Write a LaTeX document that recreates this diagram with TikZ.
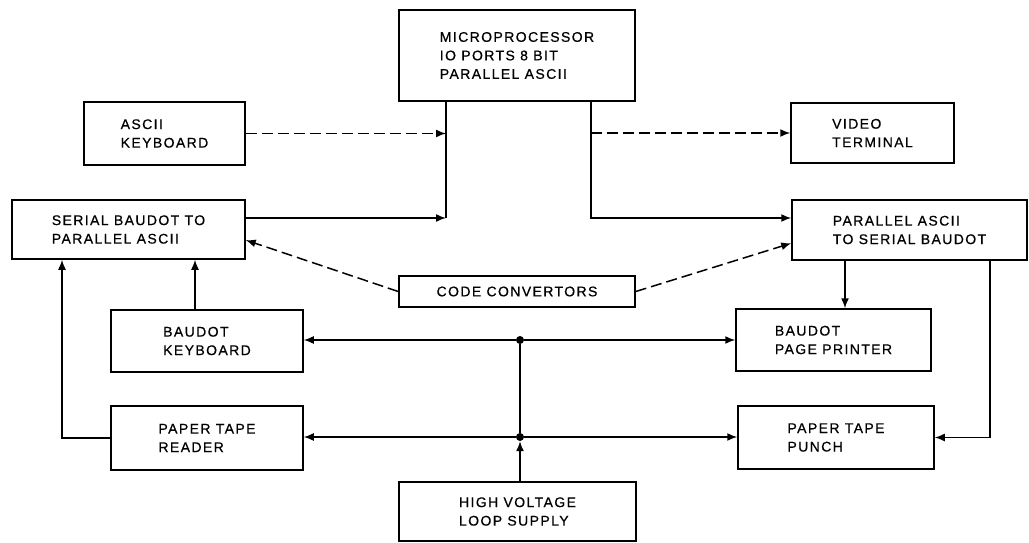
\documentclass[tikz,border=0pt]{standalone}
\usepackage{fontspec}
\setmainfont{Liberation Sans}
\usetikzlibrary{arrows.meta,calc}
\newfontfamily\boxfont[LetterSpace=10,FakeBold=0.6]{Liberation Sans}

\tikzset{
  box/.style={draw,line width=1.5pt,align=left,inner sep=0pt,
    font=\boxfont\fontsize{14}{18.5}\selectfont},
  wire/.style={line width=1.5pt},
  link/.style={wire,-{Latex[length=10pt,width=8pt]}},
  dlink/.style={link,dash pattern=on 11pt off 5pt},
  spot/.style={circle,fill,inner sep=0pt,minimum size=8pt},
}

\begin{document}
\begin{tikzpicture}[x=1pt,y=-1pt]
  \useasboundingbox (0,0) rectangle (1029,543);

  % The blocks, placed by their centres.
  \node[box,minimum width=236,minimum height=91] (micro) at (517,55.5)
    {MICROPROCESSOR\\IO PORTS 8 BIT\\PARALLEL ASCII};
  \node[box,minimum width=161,minimum height=63] (asciikb) at (164.5,133.5)
    {ASCII\\KEYBOARD};
  \node[box,minimum width=233,minimum height=59] (serial) at (128.5,229.5)
    {SERIAL BAUDOT TO\\PARALLEL ASCII};
  \node[box,minimum width=163,minimum height=60] (video) at (872.5,133)
    {VIDEO\\TERMINAL};
  \node[box,minimum width=235,minimum height=60] (parallel) at (909.5,230)
    {PARALLEL ASCII\\TO SERIAL BAUDOT};
  \node[box,minimum width=236,minimum height=31] (code) at (517,291.5)
    {CODE CONVERTORS};
  \node[box,minimum width=192,minimum height=62] (baudkb) at (207,341)
    {BAUDOT\\KEYBOARD};
  \node[box,minimum width=195,minimum height=62] (printer) at (833.5,340)
    {BAUDOT\\PAGE PRINTER};
  \node[box,minimum width=192,minimum height=64] (reader) at (207,438)
    {PAPER TAPE\\READER};
  \node[box,minimum width=196,minimum height=63] (punch) at (836,437.5)
    {PAPER TAPE\\PUNCH};
  \node[box,minimum width=237,minimum height=59] (supply) at (517.5,511.5)
    {HIGH VOLTAGE\\LOOP SUPPLY};

  % Parallel side: into and out of the microprocessor.
  \coordinate (inbus) at (446,218);
  \coordinate (outbus) at (591,218);
  \draw[wire] (inbus) -- (micro.south -| inbus);
  \draw[dlink] (asciikb.east) -- (asciikb.east -| inbus);
  \draw[link] (serial.east |- inbus) -- (inbus);
  \draw[dlink] (video.west -| outbus) -- (video.west);
  \draw[link] (micro.south -| outbus) |- (parallel.west |- outbus);

  % Code convertors point at both converter blocks.
  \draw[dlink] (code.west) -- ($(serial.east)!0.35!(serial.south east)$);
  \draw[dlink] (code.east) -- ($(parallel.west)!0.43!(parallel.south west)$);

  % Serial side.
  \draw[link] ([xshift=-12pt]baudkb.north) -- ([xshift=-12pt]baudkb.north |- serial.south);
  \draw[link] (reader.west) -| ([xshift=-66.5pt]serial.south);
  \draw[link] ([xshift=-64.5pt]parallel.south) -- ([xshift=-64.5pt]parallel.south |- printer.north);
  \draw[link] ([xshift=80.5pt]parallel.south) |- (punch.east);

  % Loop current bus.
  \node[spot] (upper) at (520,340) {};
  \node[spot] (lower) at (520,437) {};
  \draw[link] (upper) -- (baudkb.east |- upper);
  \draw[link] (upper) -- (printer.west |- upper);
  \draw[wire] (upper) -- (lower);
  \draw[link] (lower) -- (reader.east |- lower);
  \draw[link] (lower) -- (punch.west |- lower);
  \draw[link] (supply.north -| lower) -- (lower.south);
\end{tikzpicture}
\end{document}
